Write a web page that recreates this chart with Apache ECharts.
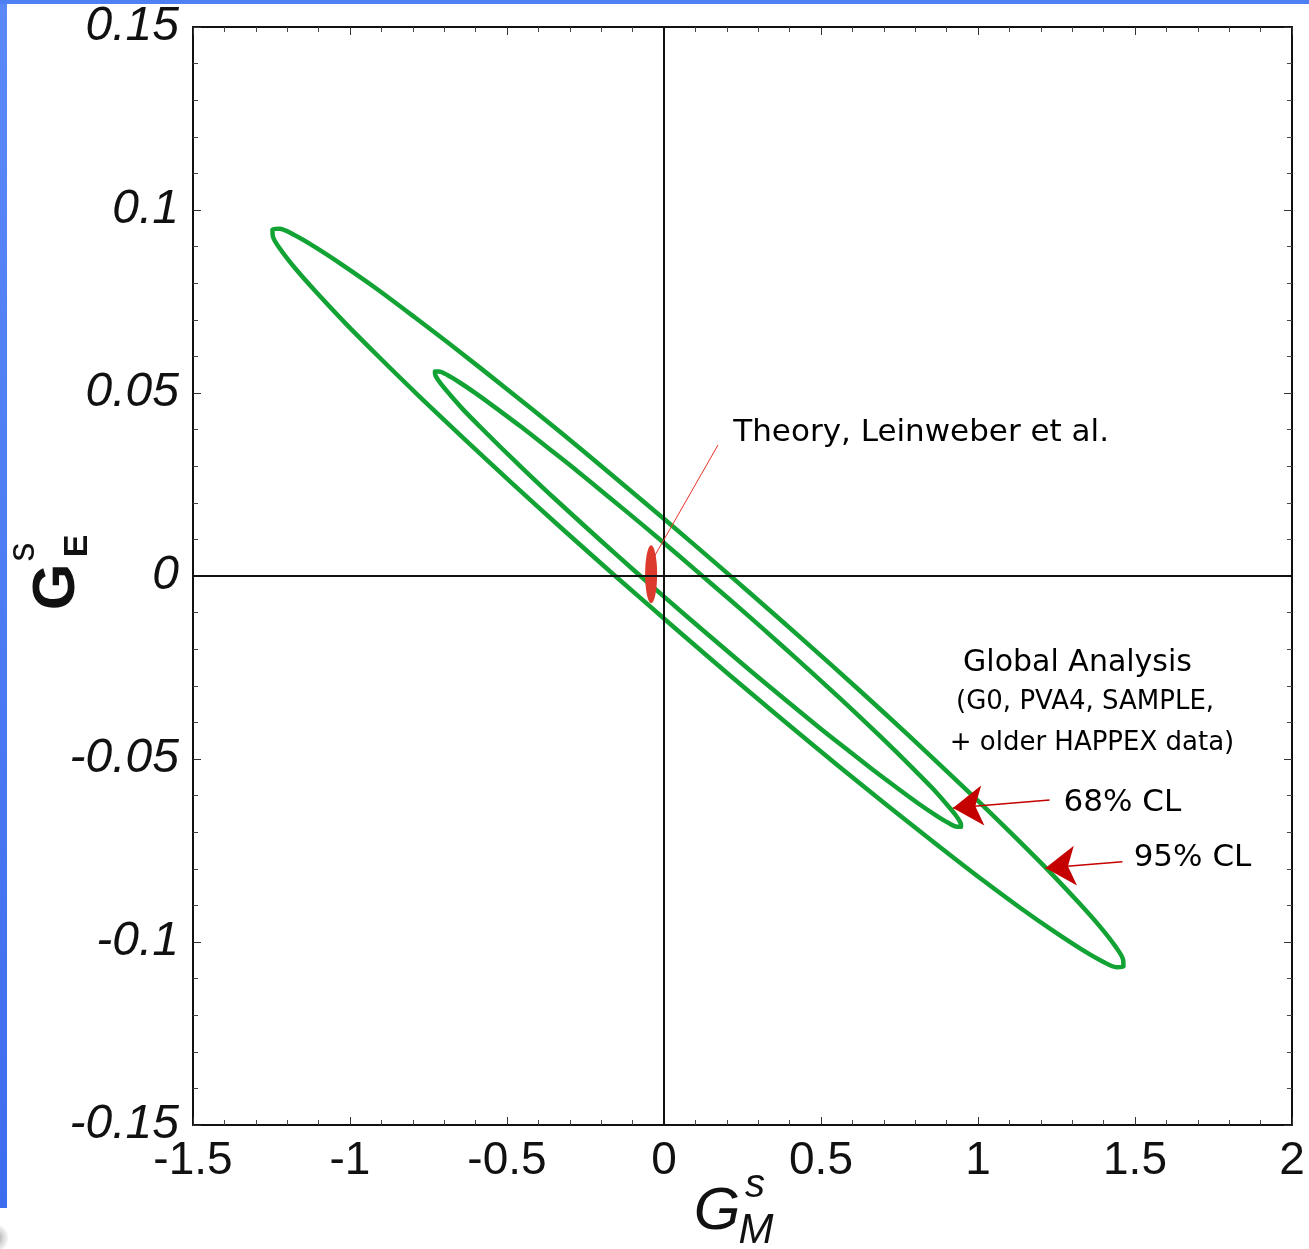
<!DOCTYPE html>
<html>
<head>
<meta charset="utf-8">
<title>Strange form factors - global analysis</title>
<script src="https://cdn.jsdelivr.net/npm/echarts@6/dist/echarts.min.js"></script>
<style>
  html, body { margin: 0; padding: 0; background: #fff; }
  #chart { width: 1309px; height: 1249px; }
</style>
</head>
<body>
<div id="chart"></div>
<script>
// Confidence contours, [GMs, GEs]
const ellipse95 = [
  [0.0290, -0.0138], [-0.1472, -0.0006], [-0.3190, 0.0125], [-0.4836, 0.0253],
  [-0.6380, 0.0376], [-0.7795, 0.0491], [-0.9060, 0.0597], [-1.0151, 0.0691],
  [-1.1049, 0.0773], [-1.1741, 0.0840], [-1.2212, 0.0892], [-1.2456, 0.0928],
  [-1.2469, 0.0947], [-1.2250, 0.0949], [-1.1802, 0.0933], [-1.1135, 0.0900],
  [-1.0257, 0.0851], [-0.9187, 0.0787], [-0.7940, 0.0707], [-0.6539, 0.0615],
  [-0.5008, 0.0511], [-0.3372, 0.0398], [-0.1660, 0.0276], [0.0098, 0.0149],
  [0.1874, 0.0018], [0.3636, -0.0114], [0.5354, -0.0245], [0.7000, -0.0373],
  [0.8544, -0.0496], [0.9959, -0.0611], [1.1224, -0.0717], [1.2315, -0.0811],
  [1.3213, -0.0893], [1.3905, -0.0960], [1.4376, -0.1012], [1.4620, -0.1048],
  [1.4633, -0.1067], [1.4414, -0.1069], [1.3966, -0.1053], [1.3299, -0.1020],
  [1.2421, -0.0971], [1.1351, -0.0907], [1.0104, -0.0828], [0.8703, -0.0735],
  [0.7172, -0.0631], [0.5536, -0.0518], [0.3824, -0.0396], [0.2066, -0.0269],
  [0.0290, -0.0138]
];
const ellipse68 = [
  [0.0655, -0.0105], [-0.0435, -0.0024], [-0.1498, 0.0057], [-0.2519, 0.0136],
  [-0.3477, 0.0211], [-0.4357, 0.0282], [-0.5144, 0.0347], [-0.5825, 0.0405],
  [-0.6387, 0.0454], [-0.6821, 0.0496], [-0.7121, 0.0527], [-0.7280, 0.0548],
  [-0.7296, 0.0559], [-0.7168, 0.0559], [-0.6899, 0.0549], [-0.6495, 0.0528],
  [-0.5959, 0.0497], [-0.5305, 0.0456], [-0.4540, 0.0407], [-0.3679, 0.0349],
  [-0.2737, 0.0285], [-0.1729, 0.0214], [-0.0674, 0.0139], [0.0411, 0.0060],
  [0.1509, -0.0021], [0.2599, -0.0102], [0.3662, -0.0183], [0.4683, -0.0262],
  [0.5641, -0.0337], [0.6521, -0.0408], [0.7308, -0.0473], [0.7989, -0.0531],
  [0.8551, -0.0580], [0.8985, -0.0622], [0.9285, -0.0653], [0.9444, -0.0674],
  [0.9460, -0.0685], [0.9332, -0.0685], [0.9063, -0.0675], [0.8659, -0.0654],
  [0.8123, -0.0623], [0.7469, -0.0582], [0.6704, -0.0533], [0.5843, -0.0475],
  [0.4901, -0.0411], [0.3893, -0.0340], [0.2838, -0.0265], [0.1753, -0.0186],
  [0.0655, -0.0105]
];
const theoryPoint = [-0.041, 0.0005];

// annotation anchors (data units)
const theoryPointer = [[-0.041, 0.0038], [0.172, 0.0358]];
const arrow68 = [[1.228, -0.0612], [0.92, -0.0634]];
const arrow95 = [[1.460, -0.0781], [1.215, -0.0798]];
const notes = [
  { text: 'Theory, Leinweber et al.', pos: [0.819, 0.0391], size: 31 },
  { text: 'Global Analysis', pos: [1.317, -0.0238], size: 30 },
  { text: '(G0, PVA4, SAMPLE,', pos: [1.341, -0.0344], size: 26 },
  { text: '+ older HAPPEX data)', pos: [1.363, -0.0456], size: 26 },
  { text: '68% CL', pos: [1.460, -0.0620], size: 31 },
  { text: '95% CL', pos: [1.683, -0.0770], size: 31 }
];

const green = '#12a334';
const darkRed = '#c40000';

const chart = echarts.init(document.getElementById('chart'));

const tickStyle = {
  axisLine: { show: true, onZero: false, lineStyle: { color: '#111', width: 2 } },
  axisTick: { show: true, inside: true, length: 8, lineStyle: { color: '#333', width: 1 } },
  minorTick: { show: true, splitNumber: 5, length: 5, lineStyle: { color: '#444', width: 1 } },
  splitLine: { show: false },
  minorSplitLine: { show: false }
};

chart.setOption({
  animation: false,
  backgroundColor: '#fff',
  grid: { left: 193, top: 27, width: 1099, height: 1098 },
  xAxis: [
    Object.assign({
      type: 'value', min: -1.5, max: 2, interval: 0.5, position: 'bottom',
      axisLabel: { fontSize: 46, fontFamily: 'Liberation Sans', color: '#111', margin: 13 }
    }, tickStyle),
    Object.assign({
      type: 'value', min: -1.5, max: 2, interval: 0.5, position: 'top',
      axisLabel: { show: false }
    }, tickStyle)
  ],
  yAxis: [
    Object.assign({
      type: 'value', min: -0.15, max: 0.15, interval: 0.05, position: 'left',
      axisLabel: { fontSize: 48, fontStyle: 'italic', fontFamily: 'Liberation Sans', color: '#111', margin: 14 }
    }, tickStyle),
    Object.assign({
      type: 'value', min: -0.15, max: 0.15, interval: 0.05, position: 'right',
      axisLabel: { show: false }
    }, tickStyle)
  ],
  series: [
    {
      name: 'zero lines',
      type: 'line',
      data: [],
      silent: true,
      markLine: {
        silent: true,
        symbol: ['none', 'none'],
        label: { show: false },
        lineStyle: { color: '#111', width: 2, type: 'solid' },
        data: [{ xAxis: 0 }, { yAxis: 0 }]
      }
    },
    {
      name: '95% CL',
      type: 'line',
      data: ellipse95,
      showSymbol: false,
      smooth: 0.3,
      lineStyle: { color: green, width: 4.5, cap: 'round', join: 'round' },
      z: 3
    },
    {
      name: '68% CL',
      type: 'line',
      data: ellipse68,
      showSymbol: false,
      smooth: 0.3,
      lineStyle: { color: green, width: 4.5, cap: 'round', join: 'round' },
      z: 3
    },
    {
      name: 'Theory',
      type: 'scatter',
      data: [theoryPoint],
      symbol: 'circle',
      symbolSize: [12, 58],
      itemStyle: { color: '#db3a2c', opacity: 1 },
      z: 4,
      markLine: {
        silent: true,
        label: { show: false },
        data: [
          [
            { coord: theoryPointer[0], symbol: 'none', lineStyle: { color: '#e8322a', width: 1, type: 'solid' } },
            { coord: theoryPointer[1], symbol: 'none' }
          ],
          [
            { coord: arrow68[0], symbol: 'none', lineStyle: { color: darkRed, width: 1.5, type: 'solid' } },
            { coord: arrow68[1], symbol: 'arrow', symbolSize: 30 }
          ],
          [
            { coord: arrow95[0], symbol: 'none', lineStyle: { color: darkRed, width: 1.5, type: 'solid' } },
            { coord: arrow95[1], symbol: 'arrow', symbolSize: 30 }
          ]
        ],
        itemStyle: { color: darkRed }
      }
    },
    {
      name: 'notes',
      type: 'scatter',
      silent: true,
      symbolSize: 0,
      itemStyle: { opacity: 1 },
      data: notes.map(n => ({
        value: n.pos,
        label: {
          show: true,
          position: 'inside',
          formatter: n.text,
          fontSize: n.size,
          fontFamily: 'DejaVu Sans',
          color: '#000'
        }
      })),
      z: 5
    }
  ],
  graphic: [
    // blue slide frame
    {
      type: 'rect', shape: { x: 0, y: 0, width: 7, height: 1208 },
      style: { fill: new echarts.graphic.LinearGradient(0, 0, 0, 1, [
        { offset: 0, color: '#5b89f8' }, { offset: 1, color: '#3d6def' }]) }
    },
    {
      type: 'rect', shape: { x: 0, y: 0, width: 1309, height: 4 },
      style: { fill: '#4f80f3' }
    },
    {
      type: 'circle', shape: { cx: -6, cy: 1238, r: 14 },
      style: { fill: new echarts.graphic.RadialGradient(0.5, 0.5, 0.5, [
        { offset: 0, color: '#777' }, { offset: 1, color: 'rgba(200,200,200,0.2)' }]) }
    },
    // x axis title G_M^s
    {
      type: 'text', x: 717, y: 1212,
      style: { text: 'G', font: 'italic 60px "Liberation Sans"', fill: '#111', align: 'center', verticalAlign: 'middle' }
    },
    {
      type: 'text', x: 755, y: 1186,
      style: { text: 's', font: 'italic 40px "Liberation Sans"', fill: '#111', align: 'center', verticalAlign: 'middle' }
    },
    {
      type: 'text', x: 756, y: 1231,
      style: { text: 'M', font: 'italic 42px "Liberation Sans"', fill: '#111', align: 'center', verticalAlign: 'middle' }
    },
    // y axis title G_E^s (rotated)
    {
      type: 'text', x: 57, y: 587, rotation: Math.PI / 2,
      style: { text: 'G', font: 'bold 60px "Liberation Sans"', fill: '#111', align: 'center', verticalAlign: 'middle' }
    },
    {
      type: 'text', x: 78, y: 546, rotation: Math.PI / 2,
      style: { text: 'E', font: 'bold 34px "Liberation Sans"', fill: '#111', align: 'center', verticalAlign: 'middle' }
    },
    {
      type: 'text', x: 24, y: 552, rotation: Math.PI / 2,
      style: { text: 's', font: '38px "Liberation Sans"', fill: '#111', align: 'center', verticalAlign: 'middle' }
    }
  ]
});

window.addEventListener('resize', () => chart.resize());
</script>
</body>
</html>
